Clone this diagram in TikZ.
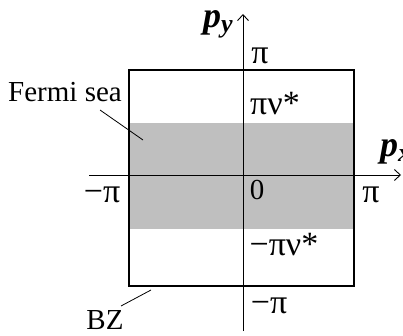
\documentclass[tikz,border=0pt]{standalone}
\usepackage{fontspec}
\setmainfont{Liberation Serif}
\usetikzlibrary{arrows.meta}
\begin{document}
\begin{tikzpicture}[x=1pt,y=-1pt,
  lbl/.style={inner sep=0pt,font=\fontsize{29}{34}\selectfont},
  pilbl/.style={inner sep=0pt,font=\fontsize{34}{38}\selectfont},
  axislbl/.style={inner sep=0pt,font=\fontsize{36}{40}\selectfont\bfseries\itshape},
  axis/.style={line width=0.9pt,-{Straight Barb[length=6pt,width=11pt]}},
  leader/.style={line width=0.8pt}]
\useasboundingbox (0,0) rectangle (403,336);
% Fermi sea band
\fill[black!25] (129,123) rectangle (354,229);
% Brillouin zone
\node[draw,line width=1.3pt,minimum width=225pt,minimum height=216pt,inner sep=0pt] (bz) at (241.5,178) {};
% axes
\coordinate (xs) at (89,175);
\coordinate (xe) at (401,175);
\coordinate (ys) at (243,331);
\coordinate (ye) at (243,14);
\draw[axis] (xs) -- (xe);
\draw[axis] (ys) -- (ye);
% axis labels
\node[axislbl] (py) at (218,24) {p\raisebox{-0.3ex}{\fontsize{26}{28}\selectfont y}};
\node[axislbl,anchor=west] (px) at (380,152) {p\raisebox{-0.3ex}{\fontsize{26}{28}\selectfont x}};
% tick labels
\node[pilbl] (pitop) at (260,56) {π};
\node[pilbl] (pinu) at (275,104) {πν*};
\node[pilbl] (mpil) at (102,195) {−π};
\node[lbl] (zero) at (257,190) {0};
\node[pilbl] (pir) at (371,195) {π};
\node[pilbl] (mpinu) at (284,245) {−πν*};
\node[pilbl] (mpib) at (269,306) {−π};
% annotations
\node[lbl] (fermi) at (65,92) {Fermi sea};
\coordinate (fs) at (100,110);
\coordinate (fe) at (143,140);
\draw[leader] (fs) -- (fe);
\node[lbl] (bzl) at (105,320) {BZ};
\coordinate (bs) at (121,306);
\coordinate (be) at (151,290);
\draw[leader] (bs) -- (be);
\end{tikzpicture}
\end{document}
